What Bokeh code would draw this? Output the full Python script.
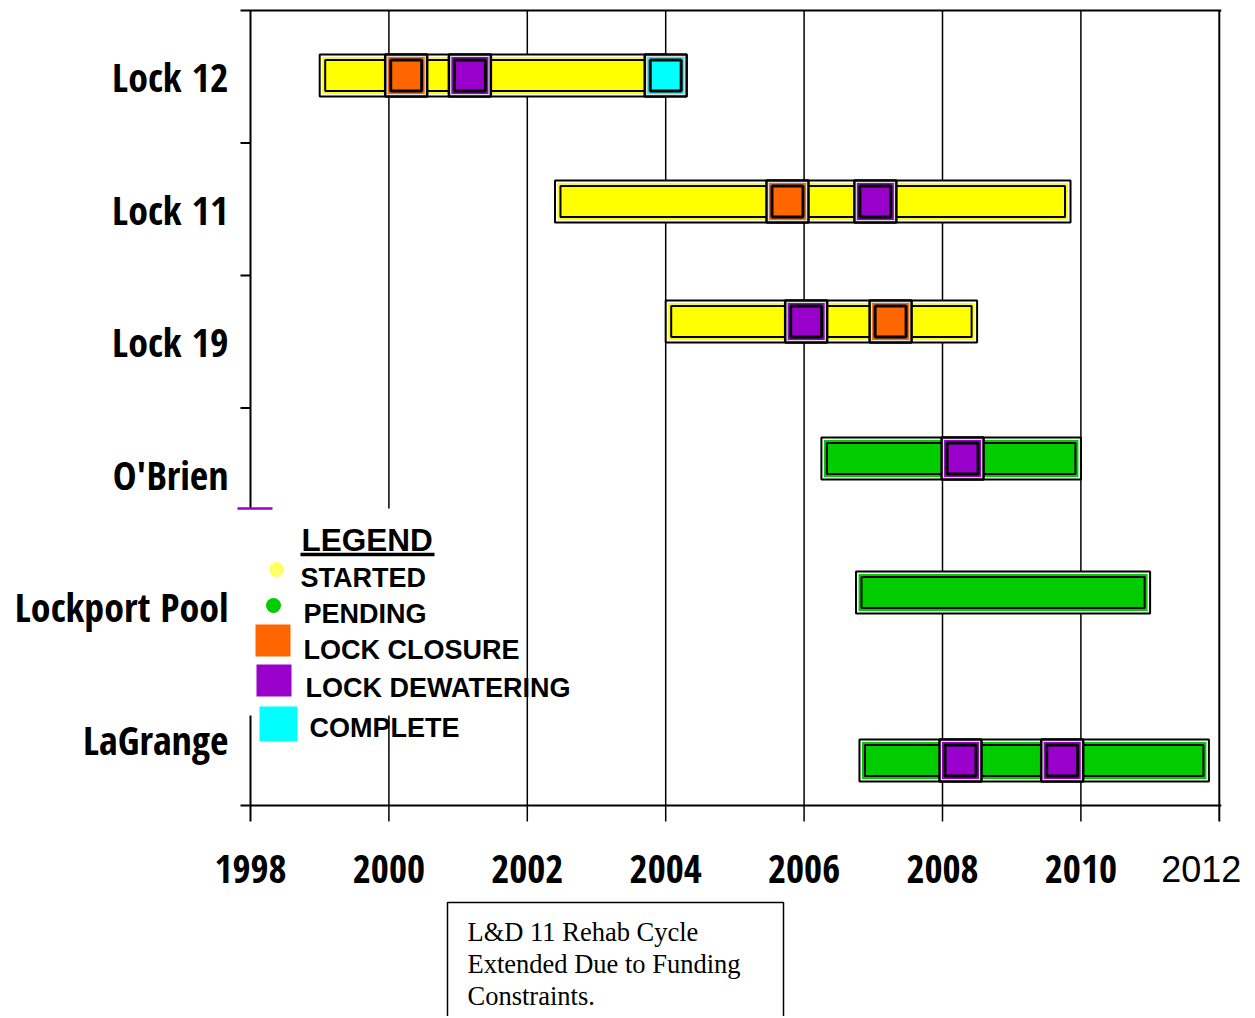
from bokeh.plotting import figure
from bokeh.models import Range1d, ColumnDataSource
from bokeh.core.properties import value
from bokeh.embed import file_html
from bokeh.resources import INLINE

# ---------------- data ----------------
LOCKS = ["Lock 12", "Lock 11", "Lock 19", "O'Brien", "Lockport Pool", "LaGrange"]
START = [1999.0, 2002.4, 2004.0, 2006.25, 2006.75, 2006.8]
END = [2004.0, 2009.85, 2008.5, 2010.0, 2011.0, 2011.85]
STATUS = ["STARTED", "STARTED", "STARTED", "PENDING", "PENDING", "PENDING"]

EVENT_LOCK = ["Lock 12", "Lock 12", "Lock 12", "Lock 11", "Lock 11",
              "Lock 19", "Lock 19", "O'Brien", "LaGrange", "LaGrange"]
EVENT_YEAR = [2000.25, 2001.17, 2004.0, 2005.76, 2007.03,
              2006.03, 2007.25, 2008.29, 2008.26, 2009.73]
EVENT_TYPE = ["LOCK CLOSURE", "LOCK DEWATERING", "COMPLETE", "LOCK CLOSURE", "LOCK DEWATERING",
              "LOCK DEWATERING", "LOCK CLOSURE", "LOCK DEWATERING", "LOCK DEWATERING", "LOCK DEWATERING"]

YEAR_TICKS = [1998, 2000, 2002, 2004, 2006, 2008, 2010, 2012]
LEGEND_TITLE = "LEGEND"
LEGEND_LABELS = ["STARTED", "PENDING", "LOCK CLOSURE", "LOCK DEWATERING", "COMPLETE"]
NOTE_LINES = ["L&D 11 Rehab Cycle", "Extended Due to Funding", "Constraints."]

# ---------------- styles ----------------
COLORS = {"STARTED": "#FFFF00", "PENDING": "#00CC00", "LOCK CLOSURE": "#FF6600",
          "LOCK DEWATERING": "#9900CC", "COMPLETE": "#00FFFF"}
LEGEND_DOT = {"STARTED": "#FFFF66", "PENDING": "#00CC00"}

# pixel helpers (layout only)
PXX = 69.2     # px per year
PXY = 132.5    # px per row


def X(px):
    return 1998 + (px - 250) / PXX


def V(py):
    return (805 - py) / PXY


W, H = 1250, 1016
p = figure(width=W, height=H, output_backend="svg", toolbar_location=None,
           x_range=Range1d(X(0), X(W)), y_range=Range1d(V(H), V(0)),
           x_axis_location=None, y_axis_location=None, min_border=0)
p.outline_line_color = None
p.xgrid.visible = False
p.ygrid.visible = False
p.background_fill_color = "white"
p.border_fill_color = "white"

N = len(LOCKS)
TOP = N  # row units
band_center = [N - 0.5 - i for i in range(N)]
shift_px = [1.25, 7.75, 20.25, 15.75, 14.25, -21.25]
bar_y = [band_center[i] + shift_px[i] / PXY for i in range(N)]
ymap = dict(zip(LOCKS, bar_y))

# ---------------- frame / grid ----------------
tick_ext = 16 / PXY
inner = [t for t in YEAR_TICKS if t not in (YEAR_TICKS[0], YEAR_TICKS[-1])]
p.segment(x0=inner, x1=inner, y0=[TOP] * len(inner), y1=[-tick_ext] * len(inner),
          line_color="black", line_width=1.5)
edges = [YEAR_TICKS[0], YEAR_TICKS[-1]]
p.segment(x0=edges, x1=edges, y0=[TOP] * 2, y1=[-tick_ext] * 2,
          line_color="black", line_width=2)
p.segment(x0=[X(240)] * 2, x1=[YEAR_TICKS[-1] + 2 / PXX] * 2, y0=[TOP, 0], y1=[TOP, 0],
          line_color="black", line_width=2)
bounds = list(range(1, N))
p.segment(x0=[X(240)] * len(bounds), x1=[YEAR_TICKS[0]] * len(bounds), y0=bounds, y1=bounds,
          line_color="black", line_width=2)

# legend cover (hides grid behind the legend)
p.quad(left=X(236), right=X(520), top=V(508), bottom=V(715),
       fill_color="white", line_color=None)
p.segment(x0=[X(237)], x1=[X(272)], y0=[V(508)], y1=[V(508)],
          line_color="#9900CC", line_width=2.5)

# ---------------- bars ----------------
hh = 21 / PXY
bsrc = ColumnDataSource(dict(
    left=START, right=END,
    bottom=[y - hh for y in bar_y], top=[y + hh for y in bar_y],
    color=[COLORS[s] for s in STATUS]))
p.quad(left="left", right="right", bottom="bottom", top="top", source=bsrc,
       fill_color="white", line_color="black", line_width=2)
in1x, in1y = 2.5 / PXX, 2.5 / PXY
p.quad(left=[s + in1x for s in START], right=[e - in1x for e in END],
       bottom=[y - hh + in1y for y in bar_y], top=[y + hh - in1y for y in bar_y],
       fill_color=[COLORS[s] for s in STATUS], line_color=None)
in2x, in2y = 5.5 / PXX, 5.5 / PXY
p.quad(left=[s + in2x for s in START], right=[e - in2x for e in END],
       bottom=[y - hh + in2y for y in bar_y], top=[y + hh - in2y for y in bar_y],
       fill_color=[COLORS[s] for s in STATUS], line_color="black", line_width=2)

# ---------------- event markers ----------------
esrc = ColumnDataSource(dict(x=EVENT_YEAR, y=[ymap[l] for l in EVENT_LOCK],
                             color=[COLORS[t] for t in EVENT_TYPE]))
p.scatter(x="x", y="y", source=esrc, marker="square", size=42,
          fill_color="#dddddd", line_color="black", line_width=2.5)
p.scatter(x="x", y="y", source=esrc, marker="square", size=37,
          fill_color="color", line_color=None)
p.scatter(x="x", y="y", source=esrc, marker="square", size=31,
          fill_color="color", line_color="black", line_width=3)

# ---------------- category labels ----------------
NARROW = value("'Liberation Sans Narrow', 'Noto Sans Condensed', 'Open Sans Condensed', "
               "'Roboto Condensed', 'DejaVu Sans Condensed', 'Liberation Sans'")
p.text(x=[X(228)] * N, y=band_center, text=LOCKS, text_align="right", text_baseline="middle",
       text_font=NARROW, text_font_size="40px", text_font_style="bold", text_color="black")

# ---------------- year labels ----------------
ly = V(868)
p.text(x=YEAR_TICKS[:-1], y=[ly] * (len(YEAR_TICKS) - 1), text=[str(t) for t in YEAR_TICKS[:-1]],
       text_align="center", text_baseline="middle", text_font=NARROW, text_font_size="39px",
       text_font_style="bold", text_color="black")
p.text(x=YEAR_TICKS[-1:], y=[ly], text=[str(t) for t in YEAR_TICKS[-1:]], x_offset=-18,
       text_align="center", text_baseline="middle", text_font=value("Liberation Sans"),
       text_font_size="36px", text_color="black")

# ---------------- legend ----------------
LSANS = value("Liberation Sans")
p.text(x=[X(301)], y=[V(539)], text=[LEGEND_TITLE], text_align="left", text_baseline="middle",
       text_font=LSANS, text_font_size="31.5px", text_font_style="bold", text_color="black")
p.segment(x0=[X(300)], x1=[X(434)], y0=[V(554)], y1=[V(554)], line_color="black", line_width=3.5)

item_text_x = [300, 303, 303, 305, 309]
item_text_y = [577, 613, 649, 687, 727]
p.text(x=[X(v) for v in item_text_x], y=[V(v) for v in item_text_y], text=LEGEND_LABELS,
       text_align="left", text_baseline="middle", text_font=LSANS, text_font_size="27px",
       text_font_style="bold", text_color="black")
dot_x = [276, 273]
dot_y = [569, 605]
p.scatter(x=[X(v) for v in dot_x], y=[V(v) for v in dot_y], marker="circle", size=15,
          fill_color=[LEGEND_DOT[k] for k in LEGEND_LABELS[:2]], line_color=None)
sq_x = [272.5, 273.5, 278]
sq_y = [640, 680, 723.5]
sq_w = [35, 35, 38]
sq_h = [32, 32, 35]
p.rect(x=[X(v) for v in sq_x], y=[V(v) for v in sq_y], width=sq_w, height=sq_h,
       width_units="screen", height_units="screen",
       fill_color=[COLORS[k] for k in LEGEND_LABELS[2:]], line_color=None)

# ---------------- note box ----------------
p.quad(left=X(447), right=X(783), top=V(902), bottom=V(1040),
       fill_color="white", line_color="black", line_width=1.5)
p.text(x=[X(467)] * len(NOTE_LINES), y=[V(931 + 32 * i) for i in range(len(NOTE_LINES))],
       text=NOTE_LINES, text_align="left", text_baseline="middle",
       text_font=value("Liberation Serif"), text_font_size="26.5px", text_color="black")

open("out.html", "w").write(file_html(p, INLINE))
